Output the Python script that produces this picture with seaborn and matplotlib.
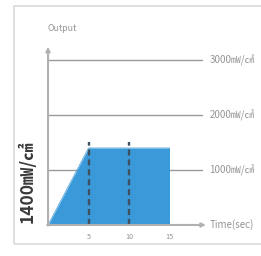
import matplotlib
matplotlib.use("Agg")
import matplotlib.pyplot as plt
import numpy as np
import pandas as pd
import seaborn as sns
from matplotlib.patches import Rectangle

# profile of the output over time
time_sec = [0, 5, 15, 15]
output_mw = [0, 1400, 1400, 0]
dash_times = [5, 10]
ref_levels = [1000, 2000, 3000]
ref_labels = ["1000㎽/㎠", "2000㎽/㎠", "3000㎽/㎠"]
x_ticks = [5, 10, 15]

BLUE = "#3a99d8"
GREY = "#9a9a9a"
TEXT = "#959595"

sns.set_theme(style="white")
plt.rcParams["font.family"] = ["Noto Sans CJK KR", "DejaVu Sans"]

fig = plt.figure(figsize=(2.61, 2.56), dpi=100)
ax = fig.add_axes([0, 0, 1, 1])
ax.set_xlim(-5.93, 26.3)
ax.set_ylim(-564, 4091)
ax.axis("off")

# outer frame
fig.patches.append(Rectangle((14 / 261, 1 - 244 / 256), 1.0, (244 - 6) / 256,
                             transform=fig.transFigure, fill=False,
                             edgecolor="#d9d9d9", linewidth=1.2))

df = pd.DataFrame({"time": time_sec, "output": output_mw})
ax.fill_between(df["time"], df["output"], 0, color=BLUE, linewidth=0, zorder=2)
sns.lineplot(data=df, x="time", y="output", ax=ax, color=BLUE, linewidth=0.5,
             sort=False, estimator=None, zorder=2)

for lvl, lab in zip(ref_levels, ref_labels):
    ax.plot([0, 19.0], [lvl, lvl], color=GREY, linewidth=1.0, zorder=1)
    ax.text(19.9, lvl, lab, color=TEXT, fontsize=7, va="center", ha="left")

for t in dash_times:
    ax.plot([t, t], [0, 1510], color="#3f5062", linewidth=1.7,
            linestyle=(0, (2.6, 1.6)), zorder=3)

# axes with arrows
ax.annotate("", xy=(0, 3240), xytext=(0, -10),
            arrowprops=dict(arrowstyle="-|>", color="#b0b0b0", lw=1.5,
                            mutation_scale=6, shrinkA=0, shrinkB=0), zorder=4)
ax.annotate("", xy=(19.5, 0), xytext=(-0.1, 0),
            arrowprops=dict(arrowstyle="-|>", color="#b0b0b0", lw=1.5,
                            mutation_scale=6, shrinkA=0, shrinkB=0), zorder=4)

for t in x_ticks:
    ax.text(t, -220, str(t), color=TEXT, fontsize=5.2, ha="center", va="center")

ax.text(19.9, 0, "Time(sec)", color=TEXT, fontsize=7, va="center", ha="left")
ax.text(-0.1, 3570, "Output", color=TEXT, fontsize=6.3, va="center", ha="left")
ax.text(-2.55, 780, "1400㎽/㎠", color="#3a3a3a", fontsize=12.5,
        fontweight="bold", rotation=90, va="center", ha="center")

fig.savefig("out.png", dpi=100)
